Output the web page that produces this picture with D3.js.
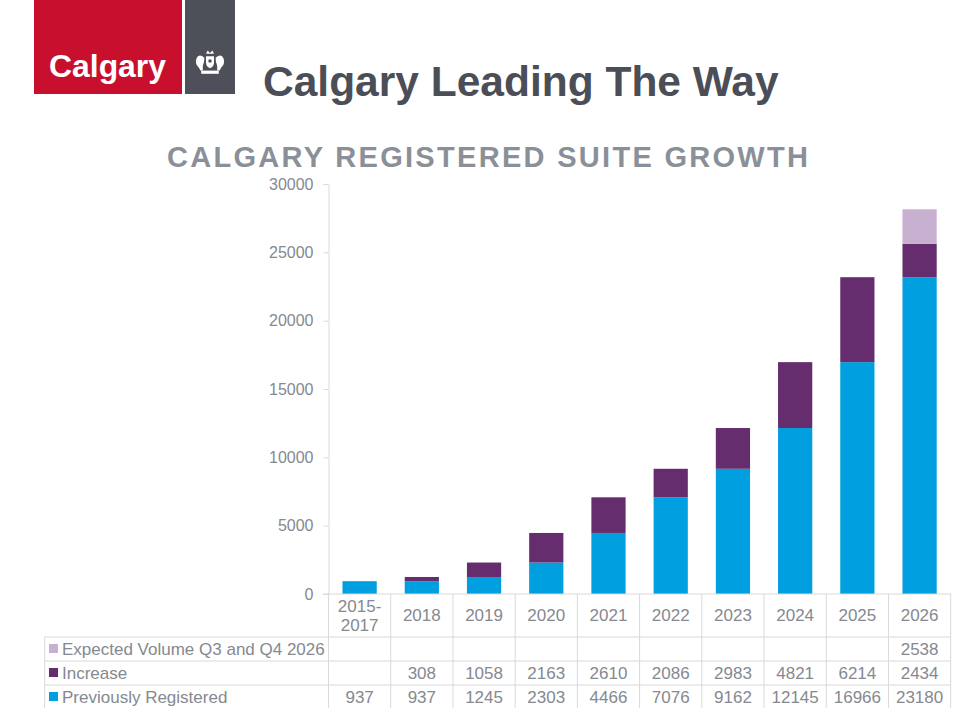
<!DOCTYPE html>
<html>
<head>
<meta charset="utf-8">
<script src="https://cdn.jsdelivr.net/npm/d3@7"></script>
<style>
  body { margin: 0; background: #fff; }
  svg { display: block; font-family: Arial, "Liberation Sans", sans-serif; }
</style>
</head>
<body>
<svg id="chart" width="979" height="720"></svg>
<script>
// chart data
const categories = ["2015-2017", "2018", "2019", "2020", "2021", "2022", "2023", "2024", "2025", "2026"];
const previouslyRegistered = [937, 937, 1245, 2303, 4466, 7076, 9162, 12145, 16966, 23180];
const increase = [null, 308, 1058, 2163, 2610, 2086, 2983, 4821, 6214, 2434];
const expectedVolume = [null, null, null, null, null, null, null, null, null, 2538];
const yTicks = [0, 5000, 10000, 15000, 20000, 25000, 30000];

const seriesNames = ["Previously Registered", "Increase", "Expected Volume Q3 and Q4 2026"];
const seriesColors = ["#009FDF", "#662D6E", "#C8B1D0"];

const svg = d3.select("#chart");

// Logo block
const logo = svg.append("g");
logo.append("rect").attr("x", 34).attr("y", 0).attr("width", 148).attr("height", 94).attr("fill", "#C8102E");
logo.append("rect").attr("x", 185).attr("y", 0).attr("width", 50).attr("height", 94).attr("fill", "#4D5058");
logo.append("text")
    .attr("x", 49).attr("y", 77)
    .attr("textLength", 117).attr("lengthAdjust", "spacingAndGlyphs")
    .style("font-size", "31px").style("font-weight", "bold").style("fill", "#fff")
    .text("Calgary");

// little crest in the grey box
const crest = logo.append("g").attr("transform", "translate(210,61) scale(0.8)").style("fill", "#fff");
crest.append("path").attr("d", "M-5,-6 L5,-6 L5,2 Q5,7 0,9 Q-5,7 -5,2 Z");
crest.append("path").attr("d", "M-5,-9 L-3,-13 L0,-10 L3,-13 L5,-9 Z");
crest.append("path").attr("d", "M-7,-4 Q-14,-10 -17,-3 Q-19,4 -14,8 L-12,12 L-9,12 L-9,6 Q-7,2 -7,-4 Z");
crest.append("path").attr("d", "M7,-4 Q14,-10 17,-3 Q19,4 14,8 L12,12 L9,12 L9,6 Q7,2 7,-4 Z");
crest.append("rect").attr("x", -11).attr("y", 12).attr("width", 22).attr("height", 4);
crest.append("circle").attr("cx", 0).attr("cy", 0).attr("r", 2.2).style("fill", "#4D5058");

// Titles
svg.append("text")
    .attr("x", 263).attr("y", 96)
    .style("font-size", "42.5px").style("font-weight", "bold").style("fill", "#4B4E56")
    .text("Calgary Leading The Way");

svg.append("text")
    .attr("x", 167).attr("y", 167)
    .attr("textLength", 641).attr("lengthAdjust", "spacing")
    .style("font-size", "29px").style("font-weight", "bold").style("fill", "#8B9098")
    .text("CALGARY REGISTERED SUITE GROWTH");

// Scales
const x = d3.scaleBand().domain(categories).range([328.5, 950.7]).padding(0);
const y = d3.scaleLinear().domain([0, 30000]).range([594, 184]);
const barW = x.bandwidth() * 0.55;

const gridColor = "#D9D9D9";
const textColor = "#858990";
const tableFont = "17px";

// Y axis
const yAxis = svg.append("g")
    .attr("transform", `translate(${x.range()[0]},0)`)
    .call(d3.axisLeft(y).tickValues(yTicks).tickSize(5).tickPadding(10).tickFormat(d => d));
yAxis.select(".domain").attr("stroke", gridColor);
yAxis.selectAll(".tick line").attr("stroke", gridColor);
yAxis.selectAll(".tick text")
    .style("font-size", "16px").style("fill", textColor).style("font-family", "Arial, 'Liberation Sans', sans-serif");

// Stacked bars
const rows = categories.map((c, i) => ({
    cat: c,
    vals: [previouslyRegistered[i] || 0, increase[i] || 0, expectedVolume[i] || 0]
}));
const stack = d3.stack().keys([0, 1, 2]).value((d, k) => d.vals[k]);
const stacked = stack(rows);

svg.append("g").selectAll("g")
    .data(stacked)
    .join("g")
    .attr("fill", (d, i) => seriesColors[i])
    .selectAll("rect")
    .data(d => d)
    .join("rect")
    .attr("x", d => x(d.data.cat) + (x.bandwidth() - barW) / 2)
    .attr("width", barW)
    .attr("y", d => y(d[1]))
    .attr("height", d => y(d[0]) - y(d[1]));

// Baseline
svg.append("line")
    .attr("x1", 323).attr("x2", x.range()[1])
    .attr("y1", y(0)).attr("y2", y(0))
    .attr("stroke", gridColor);

// Data table
const tableTop = y(0);
const rowLines = [637, 661, 685];
const tableBottom = 708;
const tableLeft = 44.7;
const rowCenters = [649, 673, 697]; // expected, increase, previous

const table = svg.append("g");
// column lines
table.selectAll(".col-line")
    .data(categories.concat(["end"]))
    .join("line")
    .attr("x1", (d, i) => i < categories.length ? x(d) : x.range()[1])
    .attr("x2", (d, i) => i < categories.length ? x(d) : x.range()[1])
    .attr("y1", tableTop).attr("y2", tableBottom)
    .attr("stroke", gridColor);
table.append("line")
    .attr("x1", tableLeft).attr("x2", tableLeft)
    .attr("y1", rowLines[0]).attr("y2", tableBottom)
    .attr("stroke", gridColor);
table.selectAll(".row-line")
    .data(rowLines)
    .join("line")
    .attr("x1", tableLeft).attr("x2", x.range()[1])
    .attr("y1", d => d).attr("y2", d => d)
    .attr("stroke", gridColor);

// header labels
table.selectAll(".hdr")
    .data(categories)
    .join("text")
    .attr("x", d => x(d) + x.bandwidth() / 2)
    .attr("text-anchor", "middle")
    .style("font-size", tableFont).style("fill", textColor)
    .each(function(d) {
        const t = d3.select(this);
        const parts = d.includes("-") ? [d.split("-")[0] + "-", d.split("-")[1]] : [d];
        if (parts.length === 1) {
            t.attr("y", 621).text(d);
        } else {
            t.append("tspan").attr("x", x(d) + x.bandwidth() / 2).attr("y", 612).text(parts[0]);
            t.append("tspan").attr("x", x(d) + x.bandwidth() / 2).attr("y", 631).text(parts[1]);
        }
    });

// value rows
const tableRows = [
    { name: seriesNames[2], color: seriesColors[2], vals: expectedVolume, cy: rowCenters[0] },
    { name: seriesNames[1], color: seriesColors[1], vals: increase, cy: rowCenters[1] },
    { name: seriesNames[0], color: seriesColors[0], vals: previouslyRegistered, cy: rowCenters[2] }
];

tableRows.forEach(r => {
    table.append("rect")
        .attr("x", 49).attr("y", r.cy - 5)
        .attr("width", 9).attr("height", 9)
        .attr("fill", r.color);
    table.append("text")
        .attr("x", 62).attr("y", r.cy + 6)
        .style("font-size", tableFont).style("fill", textColor)
        .text(r.name);
    table.selectAll(null)
        .data(categories.map((c, i) => ({ c, v: r.vals[i] })).filter(d => d.v != null))
        .join("text")
        .attr("x", d => x(d.c) + x.bandwidth() / 2)
        .attr("y", r.cy + 6)
        .attr("text-anchor", "middle")
        .style("font-size", tableFont).style("fill", textColor)
        .text(d => d.v);
});
</script>
</body>
</html>
